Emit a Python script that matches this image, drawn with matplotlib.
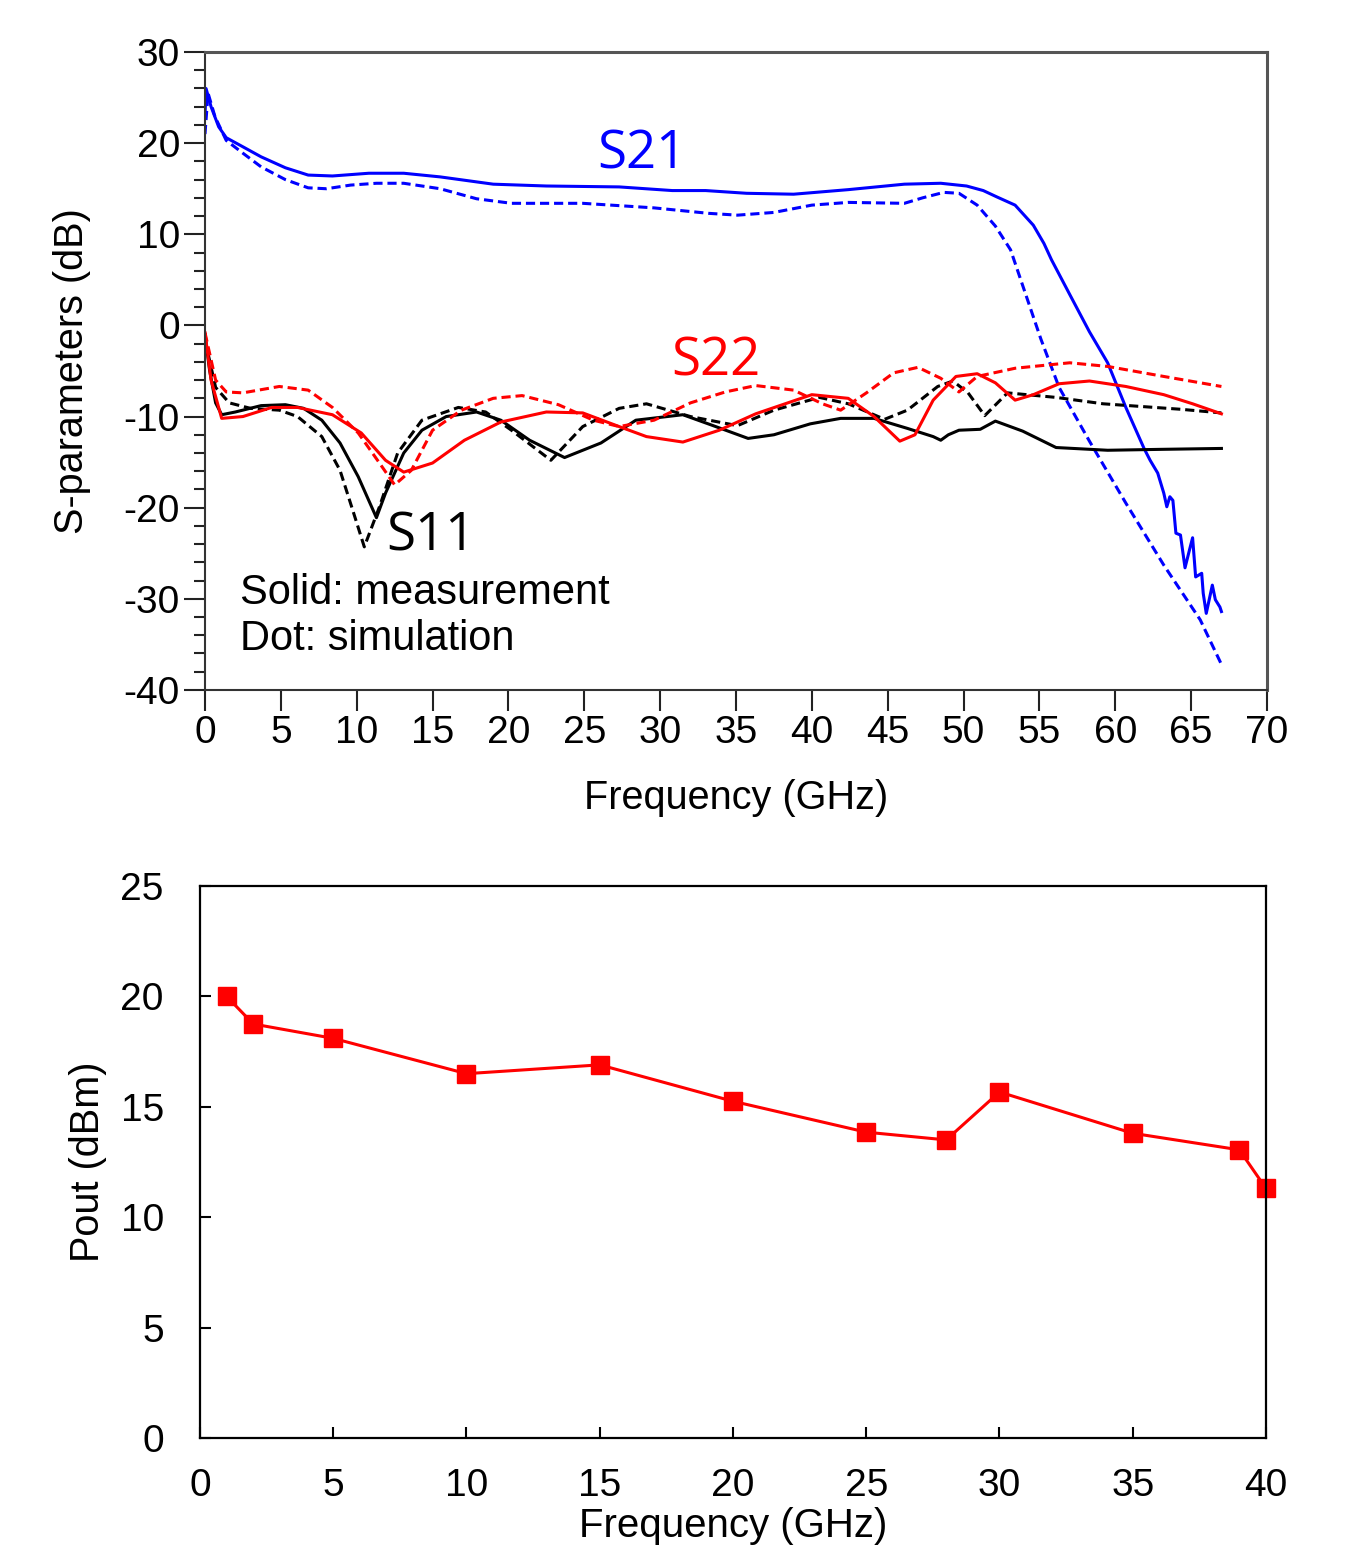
import numpy as np
import matplotlib
matplotlib.use('Agg')
import matplotlib.pyplot as plt
from matplotlib.ticker import MultipleLocator

plt.rcParams['font.family'] = ['Liberation Sans', 'DejaVu Sans']
plt.rcParams['axes.unicode_minus'] = False

# ---- top panel: S-parameters ----
s21_meas_f = [0, 0.07, 0.4, 0.9, 1.4, 2.5, 3.7, 5.3, 6.8, 8.4, 10.8, 13.1, 15.5, 19, 22.5,
              27.3, 30.8, 33, 35.7, 38.8, 42.4, 46.1, 48.5, 50.2, 51.3, 52.2, 53.4, 54.6, 55.3,
              55.8, 57.0, 58.3, 59.5, 60.7, 61.9, 62.3, 62.8, 63.2, 63.4, 63.6, 63.8, 64.0,
              64.3, 64.6, 64.9, 65.1, 65.3, 65.7, 65.8, 66.0, 66.4, 66.6, 66.9, 67.0]
s21_meas = [23, 26, 24, 21.8, 20.6, 19.6, 18.5, 17.3, 16.5, 16.4, 16.7, 16.7, 16.3, 15.5, 15.3,
            15.2, 14.8, 14.8, 14.5, 14.4, 14.9, 15.5, 15.6, 15.3, 14.8, 14.1, 13.2, 11, 9,
            7.2, 3.4, -0.7, -4.1, -9, -13.5, -14.8, -16.2, -18.4, -19.9, -18.8, -19.2, -22.8,
            -23, -26.6, -24.6, -23.3, -27.6, -27.2, -29.4, -31.6, -28.5, -30.1, -30.9, -31.4]

s21_sim_f = [0, 0.2, 0.66, 1.4, 2.5, 3.7, 5.3, 6.8, 8.0, 9.6, 11.3, 13.1, 15.5, 17.9, 20.2,
             24.9, 29.6, 33.2, 35.1, 37.5, 40, 42.4, 46.1, 47.3, 48.7, 49.7, 50.9, 52.1,
             53.1, 54.1, 55.1, 56.3, 58.3, 60.7, 63.2, 65.6, 67.0]
s21_sim = [21, 25.5, 22.9, 20.3, 18.9, 17.4, 16, 15.1, 15, 15.4, 15.6, 15.6, 15, 13.9, 13.4,
           13.4, 12.9, 12.3, 12.1, 12.4, 13.2, 13.5, 13.4, 14, 14.6, 14.5, 13.2, 10.9,
           8.3, 3.4, -1.5, -6.8, -12.7, -19.5, -26.3, -32.3, -37.2]

s11_meas_f = [0, 0.3, 0.7, 1.1, 2.0, 3.7, 5.3, 6.5, 7.7, 8.9, 10.1, 11.3, 11.9, 13.1, 14.3,
              15.9, 17.9, 19.5, 21.4, 23.7, 26.1, 28.4, 31.5, 33.5, 35.8, 37.5, 39.9, 41.9,
              44.1, 46.3, 48.0, 48.5, 49.0, 49.7, 51.1, 52.1, 53.9, 56.1, 59.5, 63, 67]
s11_meas = [-1, -4.9, -8.5, -9.8, -9.5, -8.8, -8.7, -9.1, -10.4, -12.9, -16.6, -21.1, -18.4, -14, -11.5,
            -10, -9.5, -10.4, -12.6, -14.5, -12.9, -10.4, -9.8, -11, -12.4, -12, -10.8, -10.2,
            -10.2, -11.3, -12.2, -12.6, -12.0, -11.5, -11.4, -10.5, -11.6, -13.4, -13.7, -13.6, -13.5]

s11_sim_f = [0, 0.7, 1.6, 3.0, 4.9, 6.1, 7.7, 8.9, 9.8, 10.5, 11.5, 12.7, 14.3, 16.7, 18.5,
             20.2, 22.8, 24.9, 27.3, 29.1, 32, 35.1, 37.5, 40.5, 42.4, 44.8, 46.3, 48.3,
             49.3, 50.3, 51.4, 52.9, 56.1, 59.2, 64.3, 67]
s11_sim = [-1.6, -6.8, -8.5, -9.1, -9.3, -10, -12.2, -15.9, -20.6, -24.3, -19.9, -14, -10.4, -9, -9.5,
           -11.5, -14.8, -11.1, -9.1, -8.6, -10, -11, -9.3, -7.9, -8.6, -10.3, -9.3, -6.7,
           -6.1, -7.4, -9.9, -7.4, -7.9, -8.6, -9.2, -9.6]

s22_meas_f = [0, 0.4, 1.1, 2.5, 4.4, 6.1, 8.4, 10.3, 11.9, 13.1, 15, 17.1, 19.5, 22.5, 24.9,
              27.3, 29.1, 31.5, 33.9, 36.3, 40, 42.4, 44.1, 45.8, 46.8, 48, 49.5, 50.9,
              52.1, 53.4, 54.6, 56.3, 58.3, 60.7, 63.2, 65.1, 67]
s22_meas = [-0.8, -6, -10.2, -10, -9, -9, -9.8, -11.8, -14.8, -16.1, -15.1, -12.6, -10.6, -9.5, -9.6,
            -11.1, -12.2, -12.8, -11.5, -9.7, -7.6, -8, -10, -12.7, -12, -8.2, -5.6, -5.3,
            -6.3, -8.2, -7.6, -6.4, -6.1, -6.7, -7.6, -8.6, -9.7]

s22_sim_f = [0, 0.7, 1.4, 2.5, 4.9, 6.8, 8.4, 10.1, 11.5, 12.5, 13.6, 15, 16.9, 19, 20.9,
             23.3, 25.6, 27.3, 29.6, 32, 34.3, 36.3, 38.8, 40.7, 41.9, 43.6, 45.4, 47,
             48.5, 49.7, 50.9, 53.4, 57, 59.5, 63.2, 67]
s22_sim = [-0.8, -6, -7.3, -7.4, -6.7, -7.1, -9, -11.8, -15.1, -17.5, -15.9, -11.5, -9.3, -8, -7.7,
           -8.7, -10.4, -11.1, -10.4, -8.5, -7.3, -6.6, -7.1, -8.6, -9.3, -7.4, -5.2, -4.6,
           -5.8, -7.3, -5.6, -4.7, -4.1, -4.5, -5.6, -6.7]

# ---- bottom panel: output power ----
pout_f = [1, 2, 5, 10, 15, 20, 25, 28, 30, 35, 39, 40]
pout = [20.0, 18.75, 18.1, 16.5, 16.9, 15.25, 13.85, 13.5, 15.67, 13.8, 13.05, 11.3]

tick_size = 28
label_size = 28.5
lw = 2.2
dash = (3, 1.6)

fig = plt.figure(figsize=(13.54, 15.49), dpi=100)

# top panel
ax1 = fig.add_axes([0.1514, 0.5546, 0.7843, 0.4118])
ax1.plot(s21_meas_f, s21_meas, color='#0000ff', lw=lw)
ax1.plot(s21_sim_f, s21_sim, color='#0000ff', lw=lw, ls=(0, dash))
ax1.plot(s11_meas_f, s11_meas, color='black', lw=lw)
ax1.plot(s11_sim_f, s11_sim, color='black', lw=lw, ls=(0, dash))
ax1.plot(s22_meas_f, s22_meas, color='#ff0000', lw=lw)
ax1.plot(s22_sim_f, s22_sim, color='#ff0000', lw=lw, ls=(0, dash))

ax1.set_xlim(0, 70)
ax1.set_ylim(-40, 30)
ax1.xaxis.set_major_locator(MultipleLocator(5))
ax1.yaxis.set_major_locator(MultipleLocator(10))
ax1.yaxis.set_minor_locator(MultipleLocator(2))
ax1.tick_params(which='major', direction='out', length=15, width=1.5, labelsize=tick_size,
                pad=3, colors='#222222', labelcolor='black')
ax1.tick_params(which='minor', direction='out', length=8, width=1.5, colors='#222222')
ax1.tick_params(axis='x', which='minor', length=0)
ax1.spines['left'].set_color('#333333')
ax1.spines['bottom'].set_color('#333333')
ax1.spines['top'].set_color('#555555')
ax1.spines['right'].set_color('#555555')
for s in ['left', 'bottom']:
    ax1.spines[s].set_linewidth(1.5)
for s in ['top', 'right']:
    ax1.spines[s].set_linewidth(2.2)

ax1.set_xlabel('Frequency (GHz)', fontsize=label_size, va='top')
ax1.xaxis.set_label_coords(0.5, -0.14)
ax1.set_ylabel('S-parameters (dB)', fontsize=label_size, va='center')
ax1.yaxis.set_label_coords(-0.125, 0.5)

ax1.text(28.8, 18.7, 'S21', color='#0000ff', fontsize=38, family=['Open Sans', 'DejaVu Sans'],
         ha='center', va='center')
ax1.text(33.7, -4.0, 'S22', color='#ff0000', fontsize=38, family=['Open Sans', 'DejaVu Sans'],
         ha='center', va='center')
ax1.text(14.9, -23.2, 'S11', color='black', fontsize=38, family=['Open Sans', 'DejaVu Sans'],
         ha='center', va='center')
ax1.text(2.3, -29.4, 'Solid: measurement', fontsize=30, ha='left', va='center')
ax1.text(2.3, -34.4, 'Dot: simulation', fontsize=30, ha='left', va='center')

# bottom panel
ax2 = fig.add_axes([0.1477, 0.0717, 0.7873, 0.3563])
ax2.plot(pout_f, pout, color='#ff0000', lw=2.2, marker='s', markersize=13, clip_on=False)
ax2.set_xlim(0, 40)
ax2.set_ylim(0, 25)
ax2.xaxis.set_major_locator(MultipleLocator(5))
ax2.yaxis.set_major_locator(MultipleLocator(5))
ax2.tick_params(direction='in', length=8, width=1.5, labelsize=tick_size, pad=22)
ax2.tick_params(axis='y', pad=26)
for s in ax2.spines.values():
    s.set_linewidth(1.6)
ax2.set_xlabel('Frequency (GHz)', fontsize=29, va='bottom')
ax2.xaxis.set_label_coords(0.5, -0.1945)
ax2.set_ylabel('Pout (dBm)', fontsize=label_size, va='center')
ax2.yaxis.set_label_coords(-0.105, 0.5)

fig.savefig('out.png', dpi=100)
